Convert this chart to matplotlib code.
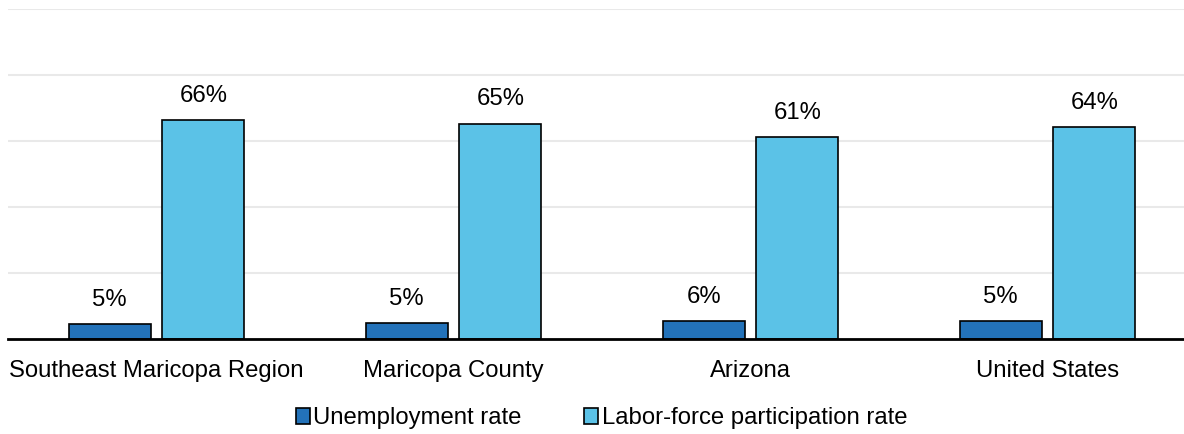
import matplotlib
matplotlib.use("Agg")
import matplotlib.pyplot as plt
import numpy as np

regions = ["Southeast Maricopa Region", "Maricopa County", "Arizona", "United States"]
unemployment = [4.5, 4.9, 5.5, 5.4]
participation = [66.4, 65.3, 61.2, 64.2]
series_names = ["Unemployment rate", "Labor-force participation rate"]

plt.rcParams['font.family'] = ['Liberation Sans', 'DejaVu Sans']
fs = 17.2

fig = plt.figure(figsize=(11.84, 4.34), dpi=100)
ax = fig.add_axes([8/1184, 95/434, 1188/1184, 330/434])

x = np.arange(len(regions))
w = 0.276
gap = 0.04
b1 = ax.bar(x - (w + gap)/2, unemployment, w, color='#2372b9', edgecolor='black', linewidth=1.2,
            label=series_names[0], zorder=3)
b2 = ax.bar(x + (w + gap)/2, participation, w, color='#5bc2e7', edgecolor='black', linewidth=1.2,
            label=series_names[1], zorder=3)

for bars, vals in [(b1, unemployment), (b2, participation)]:
    for r, v in zip(bars, vals):
        ax.text(r.get_x() + r.get_width()/2, v + 4.0, '%d%%' % int(v + 0.5),
                ha='center', va='bottom', fontsize=fs)

ax.set_xlim(-0.5, len(regions) - 0.5)
ax.set_ylim(0, 100)
ax.set_yticks([0, 20, 40, 60, 80, 100])
ax.yaxis.grid(True, color='#e9e9e9', linewidth=1.5, zorder=0)
ax.tick_params(axis='y', left=False, labelleft=False)
ax.tick_params(axis='x', length=0, pad=15, labelsize=fs)
ax.set_xticks(x)
ax.set_xticklabels(regions)
for s in ['top', 'right', 'left']:
    ax.spines[s].set_visible(False)
ax.spines['bottom'].set_linewidth(2)
ax.spines['bottom'].set_zorder(4)

leg = fig.legend(handles=[b1, b2], loc='center', bbox_to_anchor=(0.508, 0.036), ncol=2,
                 frameon=False, fontsize=fs, handlelength=0.6, handleheight=0.6,
                 handletextpad=0.15, columnspacing=2.6)

fig.savefig('out.png', dpi=100)
